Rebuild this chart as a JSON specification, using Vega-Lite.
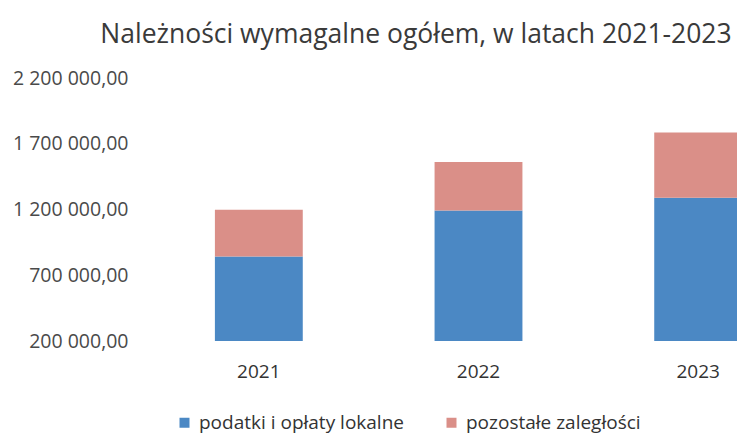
{
  "$schema": "https://vega.github.io/schema/vega-lite/v6.json",
  "autosize": "none",
  "width": 588,
  "height": 263,
  "padding": {"left": 149, "top": 78, "right": 0, "bottom": 93},
  "background": "white",
  "title": {
    "text": "Należności wymagalne ogółem, w latach 2021-2023",
    "font": "Open Sans",
    "fontSize": 26.5,
    "fontWeight": "normal",
    "color": "#3a3a3a",
    "anchor": "middle",
    "dx": -27,
    "offset": 20
  },
  "data": {
    "values": [
      {"rok": "2021", "kategoria": "podatki i opłaty lokalne", "wartosc": 842500, "kolejnosc": 1},
      {"rok": "2021", "kategoria": "pozostałe zaległości", "wartosc": 356000, "kolejnosc": 2},
      {"rok": "2022", "kategoria": "podatki i opłaty lokalne", "wartosc": 1193000, "kolejnosc": 1},
      {"rok": "2022", "kategoria": "pozostałe zaległości", "wartosc": 369000, "kolejnosc": 2},
      {"rok": "2023", "kategoria": "podatki i opłaty lokalne", "wartosc": 1290000, "kolejnosc": 1},
      {"rok": "2023", "kategoria": "pozostałe zaległości", "wartosc": 495000, "kolejnosc": 2}
    ]
  },
  "mark": {"type": "bar", "clip": true},
  "encoding": {
    "x": {
      "field": "rok",
      "type": "nominal",
      "scale": {"range": [0, 659], "paddingInner": 0.6, "paddingOuter": 0.3},
      "axis": {
        "title": null,
        "labelAngle": 0,
        "domain": false,
        "ticks": false,
        "labelPadding": 21,
        "labelFont": "Open Sans",
        "labelFontSize": 19,
        "labelColor": "#333333"
      }
    },
    "y": {
      "field": "wartosc",
      "type": "quantitative",
      "stack": "zero",
      "scale": {"domain": [200000, 2200000], "nice": false, "zero": false},
      "axis": {
        "title": null,
        "values": [200000, 700000, 1200000, 1700000, 2200000],
        "format": ",.2f",
        "grid": false,
        "domain": false,
        "ticks": false,
        "labelPadding": 21,
        "labelFont": "Open Sans",
        "labelFontSize": 19.5,
        "labelColor": "#4a4a4a"
      }
    },
    "color": {
      "field": "kategoria",
      "type": "nominal",
      "sort": ["podatki i opłaty lokalne", "pozostałe zaległości"],
      "scale": {
        "domain": ["podatki i opłaty lokalne", "pozostałe zaległości"],
        "range": ["#4b88c4", "#da8f88"]
      },
      "legend": {
        "title": null,
        "orient": "none",
        "legendX": 26,
        "legendY": 335,
        "direction": "horizontal",
        "symbolType": "square",
        "symbolSize": 100,
        "symbolStrokeWidth": 0,
        "labelFont": "Open Sans",
        "labelFontSize": 19,
        "labelLimit": 400,
        "labelColor": "#333333",
        "columnPadding": 38,
        "labelOffset": 5
      }
    },
    "order": {"field": "kolejnosc", "type": "quantitative"}
  },
  "config": {
    "view": {"stroke": null},
    "locale": {
      "number": {"decimal": ",", "thousands": " ", "grouping": [3], "currency": ["", " zł"]}
    }
  }
}
